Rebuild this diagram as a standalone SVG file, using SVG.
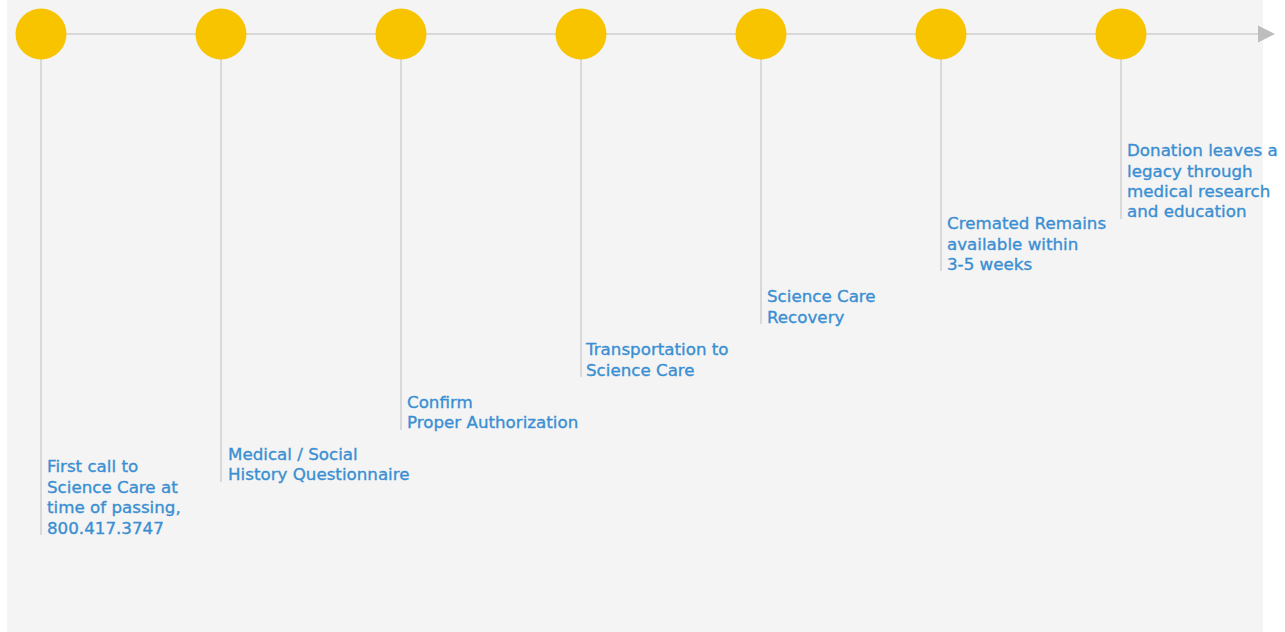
<svg xmlns="http://www.w3.org/2000/svg" width="1285" height="632" viewBox="0 0 1285 632">
<style>
.dot{fill:#f8c400}
.stem{stroke:#cbcbcb;stroke-width:1.3;fill:none}
.lbl{font-family:"DejaVu Sans","Open Sans",sans-serif;font-size:16.7px;fill:#3a8fd2;stroke:#3a8fd2;stroke-width:0.35}
</style>
<rect x="0" y="0" width="1285" height="632" fill="#ffffff"/>
<rect x="7" y="0" width="1256" height="632" fill="#f4f4f4"/>
<g id="connectors">
<path d="M41,34 L1258,34" stroke="#cfcfcf" stroke-width="1.5" fill="none"/>
<path d="M1258,25.5 L1275,34 L1258,42.5 Z" fill="#bdbdbd"/>
<path class="stem" d="M41,59 V535"/>
<path class="stem" d="M221,59 V482"/>
<path class="stem" d="M401,59 V430"/>
<path class="stem" d="M581,59 V377"/>
<path class="stem" d="M761,59 V324"/>
<path class="stem" d="M941,59 V271"/>
<path class="stem" d="M1121,59 V219"/>
</g>
<g id="n1"><circle class="dot" cx="41" cy="34" r="25.5"/>
<text class="lbl" x="47" y="472">First call to</text>
<text class="lbl" x="47" y="493">Science Care at</text>
<text class="lbl" x="47" y="513">time of passing,</text>
<text class="lbl" x="47" y="534">800.417.3747</text></g>
<g id="n2"><circle class="dot" cx="221" cy="34" r="25.5"/>
<text class="lbl" x="228" y="460">Medical / Social</text>
<text class="lbl" x="228" y="480">History Questionnaire</text></g>
<g id="n3"><circle class="dot" cx="401" cy="34" r="25.5"/>
<text class="lbl" x="407" y="408">Confirm</text>
<text class="lbl" x="407" y="428">Proper Authorization</text></g>
<g id="n4"><circle class="dot" cx="581" cy="34" r="25.5"/>
<text class="lbl" x="586" y="355">Transportation to</text>
<text class="lbl" x="586" y="376">Science Care</text></g>
<g id="n5"><circle class="dot" cx="761" cy="34" r="25.5"/>
<text class="lbl" x="767" y="302">Science Care</text>
<text class="lbl" x="767" y="323">Recovery</text></g>
<g id="n6"><circle class="dot" cx="941" cy="34" r="25.5"/>
<text class="lbl" x="947" y="229">Cremated Remains</text>
<text class="lbl" x="947" y="250">available within</text>
<text class="lbl" x="947" y="270">3-5 weeks</text></g>
<g id="n7"><circle class="dot" cx="1121" cy="34" r="25.5"/>
<text class="lbl" x="1127" y="156">Donation leaves a</text>
<text class="lbl" x="1127" y="177">legacy through</text>
<text class="lbl" x="1127" y="197">medical research</text>
<text class="lbl" x="1127" y="217">and education</text></g>
</svg>
